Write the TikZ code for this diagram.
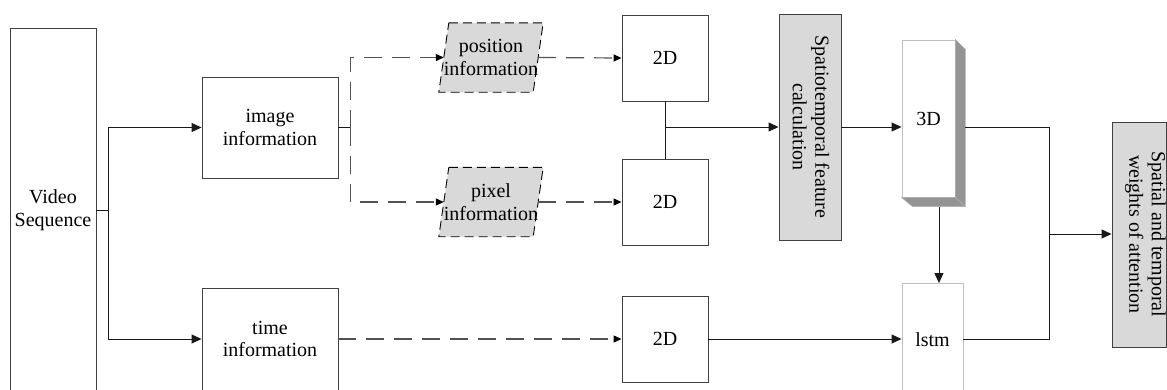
\documentclass[tikz,border=0pt]{standalone}
\usepackage{fontspec}
\setmainfont{Liberation Serif}
\usetikzlibrary{arrows.meta,calc}
\tikzset{
  box/.style={draw=black!75, line width=0.9pt, fill=white, inner sep=0pt, align=center, font=\fontsize{20}{22.5}\selectfont},
  graybox/.style={box, fill=black!15},
  lbl/.style={inner sep=0pt, align=center, font=\fontsize{20}{22.5}\selectfont},
  conn/.style={draw=black!90, line width=0.9pt},
  arr/.style={conn, -{Triangle[length=10pt,width=9pt]}},
  dconn/.style={draw=black!68, line width=1.2pt, dash pattern=on 18pt off 10pt},
  darr/.style={dconn, -{Triangle[length=8pt,width=7pt,fill=black,color=black]}},
  para/.style={draw=black, fill=black!15, line width=0.9pt, dash pattern=on 9pt off 5pt},
}
\begin{document}
\begin{tikzpicture}[x=1pt,y=-1pt]
\useasboundingbox (0,0) rectangle (1167,389);
\clip (0,0) rectangle (1167,389);
% left column
\node[box, minimum width=86pt, minimum height=364pt] (video) at (53,210) {Video\\Sequence};
\node[box, minimum width=136pt, minimum height=101pt] (img) at (270,127.5) {image\\information};
\node[box, minimum width=136pt, minimum height=102pt] (time) at (270,339) {time\\information};
% parallelograms
\node[lbl, minimum width=94pt, minimum height=69pt] (pos) at (491,57.5) {};
\node[lbl, minimum width=94pt, minimum height=69pt] (pix) at (491,202) {};
\path[para] ([xshift=5pt]pos.north west) -- ([xshift=5pt]pos.north east) -- ([xshift=-5pt]pos.south east) -- ([xshift=-5pt]pos.south west) -- cycle;
\path[para] ([xshift=5pt]pix.north west) -- ([xshift=5pt]pix.north east) -- ([xshift=-5pt]pix.south east) -- ([xshift=-5pt]pix.south west) -- cycle;
\node[lbl] (postext) at (pos.center) {position\\information};
\node[lbl] (pixtext) at (pix.center) {pixel\\information};
% 2D boxes
\node[box, minimum width=86pt, minimum height=86pt] (d1) at (665,58) {2D};
\node[box, minimum width=86pt, minimum height=86pt] (d2) at (665,202) {2D};
\node[box, minimum width=86pt, minimum height=86pt] (d3) at (665,339) {2D};
% spatiotemporal
\node[graybox, minimum width=62pt, minimum height=226pt] (spt) at (810,127) {};
\node[lbl, rotate=-90] (spttext) at (811,127) {Spatiotemporal feature\\calculation};
% 3D box
\node[box, draw=black!25, minimum width=53pt, minimum height=157pt] (three) at (928.5,118.5) {3D};
\path[fill=black!42, draw=black!30, line width=0.5pt] (three.north east) -- ++(10,10) coordinate (tne) -- ++(0,157) coordinate (tse) -- (three.south east) -- cycle;
\path[fill=black!42, draw=black!30, line width=0.5pt] (three.south west) -- (three.south east) -- (tse) -- ++(-53,0) coordinate (tsw) -- cycle;
\coordinate (tbot) at ($(tsw)!0.5!(tse)$);
% lstm
\node[box, draw=black!25, minimum width=61pt, minimum height=112pt] (lstm) at (932.5,339.5) {};
\node[lbl] (lstmtext) at (932.5,339.5) {lstm};
% attention
\node[graybox, minimum width=54pt, minimum height=225pt] (att) at (1139,234.5) {};
\node[lbl, rotate=-90] (atttext) at (1145.5,234.5) {Spatial and temporal\\weights of attention};
% connectors
\draw[conn] (video.east) -- ++(12,0) coordinate (vs);
\draw[arr] (vs) |- (img.west);
\draw[arr] (vs) |- (time.west);
\draw[conn] (img.east) -- ++(12,0) coordinate (isp);
\draw[darr] (isp) |- (pos.west);
\draw[darr] (isp) |- (pix.west);
\draw[darr] (pos.east) -- (d1.west);
\draw[darr] (pix.east) -- (d2.west);
\draw[darr] (time.east) -- (d3.west);
\draw[conn] (d1.south) -- (d2.north);
\draw[arr] (d1.south |- spt.west) -- (spt.west);
\draw[arr] (spt.east) -- (spt.east -| three.west);
\coordinate (jn) at (1049,234);
\draw[conn] (tne |- spt.east) -| (jn) |- (lstm.east);
\draw[arr] (jn) -- (jn -| att.west);
\draw[arr] (tbot) -- (tbot |- lstm.north);
\draw[arr] (d3.east) -- (d3.east -| lstm.west);
\end{tikzpicture}
\end{document}
